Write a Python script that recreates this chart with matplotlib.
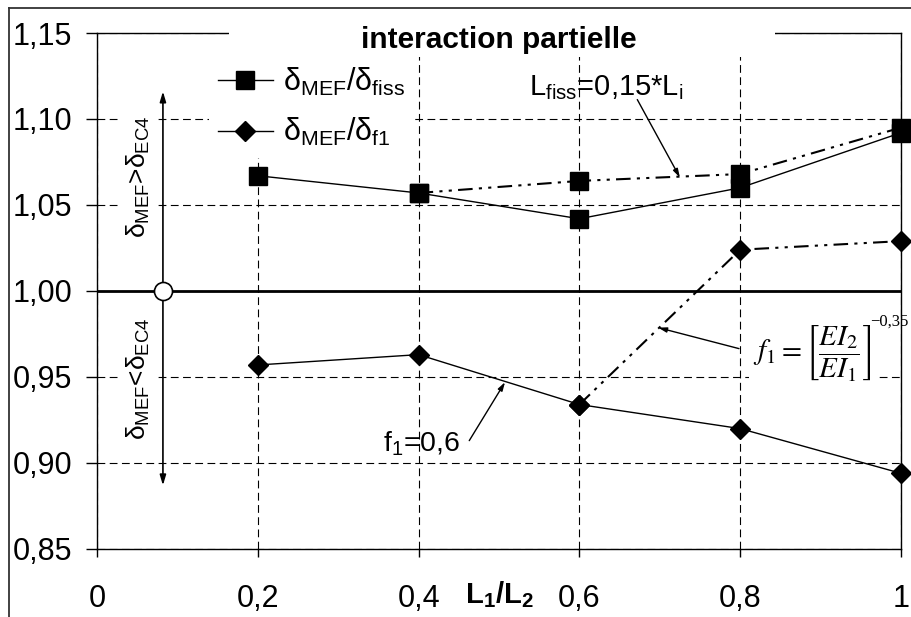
import matplotlib
matplotlib.use('Agg')

import matplotlib.pyplot as plt
from matplotlib.lines import Line2D
from matplotlib.patches import Rectangle

# data
x_ratio = [0.2, 0.4, 0.6, 0.8, 1.0]
fiss_ratio = [1.067, 1.057, 1.042, 1.060, 1.092]
f1_ratio = [0.957, 0.963, 0.934, 0.920, 0.894]

x_fiss_alt = [0.4, 0.6, 0.8, 1.0]
fiss_alt_ratio = [1.057, 1.064, 1.068, 1.095]
x_f1_alt = [0.6, 0.8, 1.0]
f1_alt_ratio = [0.934, 1.024, 1.029]

x_ticks = [0, 0.2, 0.4, 0.6, 0.8, 1.0]
x_tick_labels = ['0', '0,2', '0,4', '0,6', '0,8', '1']
y_ticks = [0.85, 0.90, 0.95, 1.00, 1.05, 1.10, 1.15]
y_tick_labels = ['0,85', '0,90', '0,95', '1,00', '1,05', '1,10', '1,15']

plt.rcParams['font.family'] = ['Liberation Sans', 'DejaVu Sans']
plt.rcParams['mathtext.fontset'] = 'custom'
plt.rcParams['mathtext.rm'] = 'Liberation Sans'
plt.rcParams['mathtext.it'] = 'Liberation Sans:italic'
plt.rcParams['mathtext.bf'] = 'Liberation Sans:bold'

fig = plt.figure(figsize=(9.11, 6.17), dpi=100)
ax = fig.add_axes([97 / 911, 1 - 549 / 617, 804 / 911, 516 / 617])

# outer frame (left and top edges only visible)
fig.add_artist(Line2D([9 / 911, 9 / 911], [0, 1 - 8 / 617], color='#333333', lw=1.3))
fig.add_artist(Line2D([9 / 911, 1], [1 - 8 / 617, 1 - 8 / 617], color='#333333', lw=1.3))

dash = (0, (7, 4))
ax.grid(True, color='black', linestyle=dash, linewidth=0.8)
ax.set_axisbelow(True)
ax.axhline(1.0, color='black', lw=2.0, zorder=2)

dashdotdot = (0, (7, 3, 1.5, 3, 1.5, 3))
ax.plot(x_fiss_alt, fiss_alt_ratio, color='black', lw=1.5, linestyle=dashdotdot,
        marker='s', ms=13, zorder=3, clip_on=False)
ax.plot(x_f1_alt, f1_alt_ratio, color='black', lw=1.5, linestyle=dashdotdot,
        marker='D', ms=10, zorder=3, clip_on=False)
ax.plot(x_ratio, fiss_ratio, color='black', lw=1.0, marker='s', ms=13,
        zorder=4, clip_on=False, label=r'δ$_{\rm MEF}$/δ$_{\rm fiss}$')
ax.plot(x_ratio, f1_ratio, color='black', lw=1.0, marker='D', ms=10,
        zorder=4, clip_on=False, label=r'δ$_{\rm MEF}$/δ$_{\rm f1}$')

ax.set_xlim(0, 1)
ax.set_ylim(0.85, 1.15)
ax.set_xticks(x_ticks)
ax.set_xticklabels(x_tick_labels)
ax.set_yticks(y_ticks)
ax.set_yticklabels(y_tick_labels)
ax.tick_params(axis='both', direction='out', colors='black', labelsize=22, width=1)
ax.tick_params(axis='x', length=6, pad=19)
ax.tick_params(axis='y', length=8, pad=10)
for s in ax.spines.values():
    s.set_linewidth(1.0)
    s.set_zorder(5)

ax.set_xlabel(r'L$_\mathbf{1}$/L$_\mathbf{2}$', fontsize=21, fontweight='bold')
ax.xaxis.set_label_coords(0.5, -0.058)

# white band where the title breaks the top border
ax.add_patch(Rectangle((0.164, 0.953), 0.679, 0.08, transform=ax.transAxes,
                       facecolor='white', edgecolor='none', clip_on=False, zorder=6))
ax.text(0.5, 0.987, 'interaction partielle', transform=ax.transAxes, ha='center',
        va='center', fontsize=21.5, fontweight='bold', zorder=7)

leg = ax.legend(loc='upper left', bbox_to_anchor=(0.139, 0.954), fontsize=22,
                frameon=True, fancybox=False, edgecolor='none', facecolor='white',
                framealpha=1, handlelength=1.8, handletextpad=0.33,
                labelspacing=0.6, borderpad=0.3, borderaxespad=0)
leg.set_zorder(6)

# sign of the deviation around 1,00
ax.plot([0.082], [1.0], marker='o', ms=13, mfc='white', mec='black', mew=1.2,
        zorder=6, clip_on=False)
ax.annotate('', xy=(0.082, 1.116), xytext=(0.082, 0.887),
            arrowprops=dict(arrowstyle='<|-|>,head_length=0.6,head_width=0.18',
                            color='black', lw=1.2, shrinkA=0, shrinkB=0), zorder=5)
ax.text(0.051, 1.0666, r'δ$_{\rm MEF}$>δ$_{\rm EC4}$', rotation=90, ha='center',
        va='center', fontsize=19, zorder=5,
        bbox=dict(facecolor='white', edgecolor='none', pad=4))
ax.text(0.051, 0.9487, r'δ$_{\rm MEF}$<δ$_{\rm EC4}$', rotation=90, ha='center',
        va='center', fontsize=19, zorder=5,
        bbox=dict(facecolor='white', edgecolor='none', pad=4))

arrow = dict(arrowstyle='-|>,head_length=0.5,head_width=0.15', color='black',
             lw=1.0, shrinkA=0, shrinkB=0)
ax.annotate(r'L$_{\rm fiss}$=0,15*L$_{\rm i}$', xy=(0.633, 1.1184), ha='center',
            va='center', fontsize=21, zorder=5)
ax.annotate('', xy=(0.725, 1.066), xytext=(0.672, 1.1113), arrowprops=arrow, zorder=5)

ax.annotate(r'f$_{\rm 1}$=0,6', xy=(0.404, 0.911), ha='center', va='center',
            fontsize=20.5, zorder=5)
ax.annotate('', xy=(0.5075, 0.947), xytext=(0.463, 0.913), arrowprops=arrow, zorder=5)

# f1 formula, exponent set apart to keep it small like the original
ax.text(0.816, 0.9638, r'$f_1 = \left[\dfrac{EI_2}{EI_1}\right]$',
        ha='left', va='center', fontsize=21, math_fontfamily='stix', zorder=5,
        bbox=dict(facecolor='white', edgecolor='none', pad=3))
ax.text(0.961, 0.9824, '\u22120,35', ha='left', va='center', fontsize=12,
        family='Liberation Serif', zorder=6)
ax.annotate('', xy=(0.698, 0.9787), xytext=(0.7985, 0.9665), arrowprops=arrow, zorder=5)

fig.savefig('out.png', dpi=100, facecolor='white')
